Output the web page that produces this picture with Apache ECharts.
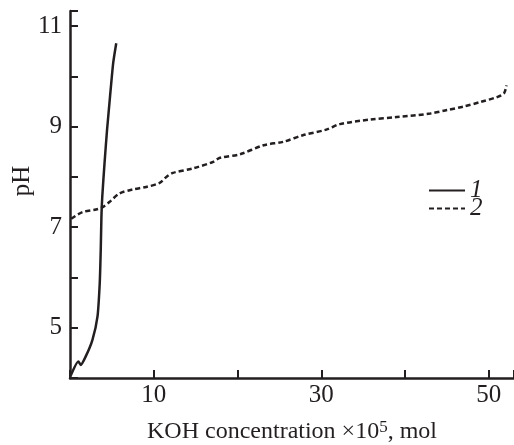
<!DOCTYPE html>
<html><head><meta charset="utf-8">
<script src="https://cdn.jsdelivr.net/npm/echarts@6/dist/echarts.min.js"></script>
<style>html,body{margin:0;padding:0;background:#fff}#c{width:514px;height:445px}</style>
</head><body><div id="c"></div>
<script>
const seriesNames = ['1', '2'];
const curve1X = [0.09, 1.0, 1.28, 1.88, 2.68, 3.28, 3.55, 3.67, 3.75, 3.85, 4.12, 4.42, 4.78, 5.15, 5.52];
const curve1Y = [4.05, 4.33, 4.26, 4.43, 4.76, 5.22, 5.89, 6.55, 7.2, 7.6, 8.27, 8.93, 9.6, 10.26, 10.66];
const curve2X = [0.14, 1.5, 3.1, 3.9, 4.7, 5.9, 7.5, 9.1, 10.7, 11.5, 12.3, 14.7, 17.1, 17.9, 20.3, 23.1, 25.5, 27.8, 30.6, 32.2, 35.8, 39, 43, 45, 47, 49, 51, 51.8, 52.1];
const curve2Y = [7.17, 7.30, 7.35, 7.40, 7.50, 7.67, 7.75, 7.80, 7.88, 8.0, 8.08, 8.17, 8.30, 8.38, 8.45, 8.63, 8.70, 8.83, 8.94, 9.05, 9.14, 9.19, 9.26, 9.33, 9.40, 9.49, 9.59, 9.66, 9.82];
const xTicks = [10, 30, 50];
const yTicks = [5, 7, 9, 11];

const pairs = (xs, ys) => xs.map((x, i) => [x, ys[i]]);
const font = 'Liberation Serif';
const ink = '#231f20';

const chart = echarts.init(document.getElementById('c'));
chart.setOption({
  animation: false,
  backgroundColor: '#fff',
  grid: { left: 70, top: 11, width: 444, bottom: 67, containLabel: false, outerBoundsMode: 'none' },
  xAxis: {
    type: 'value', min: 0, max: 53, interval: 10,
    axisLine: { show: true, lineStyle: { color: ink, width: 2.5 } },
    axisTick: { show: true, inside: true, length: 8, lineStyle: { color: ink, width: 2 } },
    splitLine: { show: false },
    axisLabel: { color: ink, fontFamily: font, fontSize: 25, margin: 5,
      formatter: v => xTicks.includes(v) ? String(v) : '' },
    name: '{a|KOH concentration ×10}{s|5}{a|, mol}',
    nameLocation: 'middle', nameGap: 41,
    nameTextStyle: { rich: {
      a: { fontFamily: font, fontSize: 24, color: ink },
      s: { fontFamily: font, fontSize: 17, color: ink, verticalAlign: 'top', padding: [0, 0, 8, 0] }
    } }
  },
  yAxis: {
    type: 'value', min: 4, max: 11.3, interval: 1,
    axisLine: { show: true, lineStyle: { color: ink, width: 2.5 } },
    axisTick: { show: true, inside: true, length: 8, lineStyle: { color: ink, width: 2 } },
    splitLine: { show: false },
    axisLabel: { color: ink, fontFamily: font, fontSize: 25, margin: 8,
      formatter: v => yTicks.includes(v) ? String(v) : '' },
    name: 'pH', nameLocation: 'middle', nameGap: 35, nameMoveOverlap: false,
    nameTextStyle: { fontFamily: font, fontSize: 25, color: ink, padding: [0, 0, 0, 27] }
  },
  legend: {
    orient: 'vertical', left: 423, top: 173, itemGap: -7,
    itemWidth: 36, itemHeight: 14,
    itemStyle: { opacity: 0, borderWidth: 0 },
    textStyle: { fontFamily: font, fontSize: 25, fontStyle: 'italic', color: ink },
    data: seriesNames
  },
  series: [
    { name: seriesNames[0], type: 'line', data: pairs(curve1X, curve1Y), symbol: 'none',
      smooth: 0.2,
      lineStyle: { color: ink, width: 2.5 }, itemStyle: { color: ink } },
    { name: seriesNames[1], type: 'line', data: pairs(curve2X, curve2Y), symbol: 'none',
      smooth: 0.3,
      lineStyle: { color: ink, width: 2.5, type: [5, 3] }, itemStyle: { color: ink } }
  ]
});
</script></body></html>
